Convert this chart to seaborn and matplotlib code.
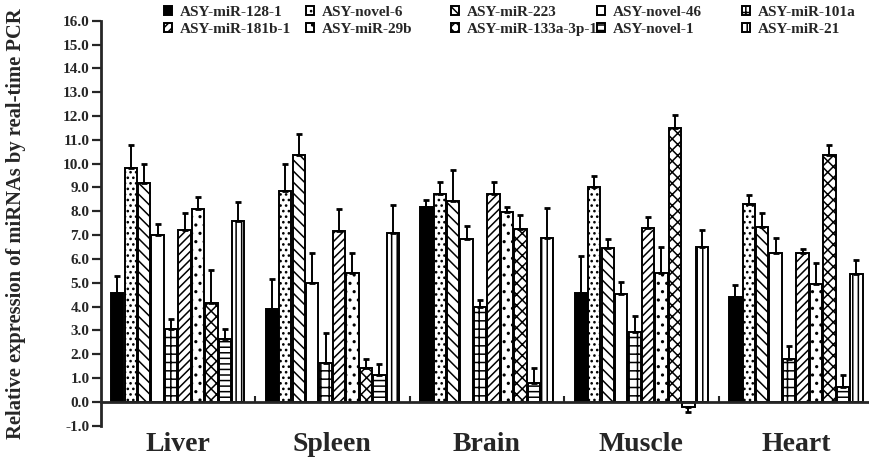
import numpy as np
import pandas as pd
import matplotlib
matplotlib.use("Agg")
import matplotlib.pyplot as plt
import seaborn as sns

tissues = ["Liver", "Spleen", "Brain", "Muscle", "Heart"]
mirnas = ["ASY-miR-128-1", "ASY-novel-6", "ASY-miR-223", "ASY-novel-46", "ASY-miR-101a",
          "ASY-miR-181b-1", "ASY-miR-29b", "ASY-miR-133a-3p-1", "ASY-novel-1", "ASY-miR-21"]

# mean expression per tissue, in miRNA order
liver = [4.55, 9.80, 9.18, 6.99, 3.08, 7.20, 8.08, 4.14, 2.64, 7.60]
spleen = [3.91, 8.84, 10.38, 4.99, 1.65, 7.16, 5.42, 1.44, 1.13, 7.08]
brain = [8.18, 8.73, 8.45, 6.84, 3.98, 8.73, 7.95, 7.27, 0.81, 6.88]
muscle = [4.55, 9.04, 6.44, 4.53, 2.95, 7.29, 5.42, 11.51, -0.21, 6.50]
heart = [4.39, 8.32, 7.36, 6.26, 1.79, 6.27, 4.96, 10.35, 0.62, 5.35]

# error bar (SD)
liver_err = [0.75, 0.98, 0.79, 0.47, 0.41, 0.71, 0.51, 1.41, 0.40, 0.80]
spleen_err = [1.23, 1.13, 0.86, 1.24, 1.24, 0.92, 0.81, 0.37, 0.44, 1.20]
brain_err = [0.29, 0.51, 1.28, 0.55, 0.31, 0.48, 0.24, 0.57, 0.63, 1.27]
muscle_err = [1.59, 0.45, 0.40, 0.50, 0.64, 0.46, 1.09, 0.54, 0.20, 0.73]
heart_err = [0.51, 0.37, 0.56, 0.60, 0.54, 0.14, 0.85, 0.43, 0.49, 0.61]

fills = ["black"] + ["white"] * 9
hatches = [None, "...", "\\\\\\", None, "++", "////", "..", "xxx", "---", "|||"]

sns.set_style("ticks")
plt.rcParams["font.family"] = ["Liberation Serif", "DejaVu Serif"]
plt.rcParams["font.weight"] = "bold"
plt.rcParams["hatch.linewidth"] = 1.1

df = pd.DataFrame({
    "tissue": np.repeat(tissues, len(mirnas)),
    "mirna": mirnas * len(tissues),
    "value": liver + spleen + brain + muscle + heart,
    "err": liver_err + spleen_err + brain_err + muscle_err + heart_err,
})

fig = plt.figure(figsize=(8.69, 4.58), dpi=100)
ax = fig.add_axes([0.1157, 0.0705, 0.889, 0.8843])

sns.barplot(data=df, x="tissue", y="value", hue="mirna", order=tissues, hue_order=mirnas,
            palette=["white"] * 10, edgecolor="black", linewidth=1.4, width=0.87, gap=0.08,
            errorbar=None, legend=False, ax=ax)

bar_groups = list(ax.containers)
for i, cont in enumerate(bar_groups):
    sub = df[df["mirna"] == mirnas[i]].set_index("tissue").loc[tissues]
    vals = sub["value"].to_numpy()
    errs = sub["err"].to_numpy()
    xs = []
    for bar in cont:
        bar.set_facecolor(fills[i])
        if hatches[i]:
            bar.set_hatch(hatches[i])
        xs.append(bar.get_x() + bar.get_width() / 2)
    lower = np.where(vals < 0, errs, 0)
    upper = np.where(vals >= 0, errs, 0)
    ax.errorbar(xs, vals, yerr=[lower, upper], fmt="none", ecolor="black",
                elinewidth=1.4, capsize=2.5, capthick=2)

# legend: five fixed columns, two rows
col_x = [164, 306, 451, 597, 742]
for j in range(5):
    handles = [bar_groups[j][0], bar_groups[j + 5][0]]
    fig.legend(handles, [mirnas[j], mirnas[j + 5]], loc="upper left",
               bbox_to_anchor=(col_x[j] / 869, 1 - 6 / 458), frameon=False,
               borderpad=0, borderaxespad=0, handlelength=0.55, handleheight=0.55,
               handletextpad=0.5, labelspacing=0.25,
               prop={"weight": "bold", "size": 11})

ax.set_ylim(-1, 16)
ax.set_xlim(-0.5, 4.5)
yt = np.arange(-1, 16.1, 1)
ax.set_yticks(yt)
ax.set_yticklabels([f"{t:.1f}" for t in yt])
ax.tick_params(axis="y", length=6.5, width=1.6, labelsize=11, pad=1.5)

ax.set_xticks([0.5, 1.5, 2.5, 3.5], minor=True)
ax.tick_params(axis="x", which="major", length=0, labelsize=20, pad=22)
ax.tick_params(axis="x", which="minor", direction="in", length=4.5, width=1.5)

sns.despine(ax=ax)
ax.spines["bottom"].set_position(("data", 0))
ax.spines["bottom"].set_linewidth(2)
ax.spines["left"].set_linewidth(2)

ax.set_xlabel("")
ax.set_ylabel("Relative expression of miRNAs by real-time PCR", fontsize=14.8, fontweight="bold")
ax.yaxis.set_label_coords(-0.096, 0.5)

fig.savefig("out.png", dpi=100)
